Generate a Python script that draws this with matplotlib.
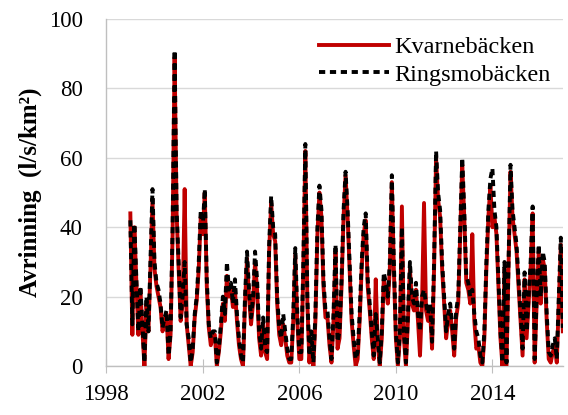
import numpy as np
import matplotlib
matplotlib.use("Agg")
from matplotlib import pyplot as plt

plt.rcParams['font.family'] = ['Liberation Serif', 'DejaVu Serif']

# monthly runoff (l/s/km2), Jan 1999 onwards
start_year = 1999
ringsmo = [42, 12, 41, 25, 10, 23, 12, 1, 20, 10, 30, 51,
           30, 24, 22, 18, 11, 14, 16, 3, 10, 40, 91, 45,
           30, 14, 20, 30, 12, 8, 1, 5, 15, 20, 30, 45,
           40, 51, 25, 12, 8, 10, 10, 1, 5, 12, 20, 15,
           30, 22, 24, 18, 25, 15, 8, 3, 1, 20, 33, 22,
           14, 20, 33, 25, 10, 5, 14, 5, 4, 35, 49, 40,
           38, 20, 11, 8, 15, 10, 5, 2, 2, 15, 34, 15,
           4, 4, 30, 64, 20, 3, 10, 1, 15, 40, 52, 45,
           25, 16, 16, 8, 2, 15, 35, 7, 10, 25, 45, 56,
           45, 30, 15, 8, 2, 4, 15, 30, 40, 44, 25, 18,
           10, 3, 15, 8, 1, 10, 27, 24, 20, 30, 55, 30,
           10, 1, 10, 40, 10, 1, 15, 30, 20, 18, 24, 15,
           10, 20, 22, 18, 15, 18, 7, 30, 62, 50, 45, 30,
           20, 10, 15, 18, 12, 5, 16, 20, 40, 60, 45, 26,
           24, 20, 22, 15, 10, 8, 3, 1, 10, 30, 45, 54,
           57, 45, 40, 25, 10, 1, 30, 1, 30, 58, 45, 40,
           35, 25, 15, 5, 27, 10, 20, 30, 46, 2, 20, 35,
           20, 33, 30, 15, 4, 3, 6, 8, 2, 20, 37, 11]
kvarne = [44, 9, 40, 24, 9, 22, 10, 0, 18, 10, 28, 48,
          28, 23, 20, 17, 10, 13, 15, 2, 9, 38, 89, 44,
          28, 13, 18, 51, 12, 6, 0, 4, 14, 19, 28, 43,
          38, 50, 23, 11, 6, 9, 9, 0, 4, 10, 18, 13,
          26, 20, 22, 17, 22, 13, 6, 2, 0, 18, 31, 20,
          12, 18, 30, 22, 8, 3, 12, 4, 2, 33, 47, 38,
          36, 18, 9, 6, 12, 8, 3, 1, 1, 13, 32, 13,
          2, 2, 28, 62, 18, 1, 8, 0, 13, 38, 50, 43,
          23, 14, 14, 6, 1, 13, 33, 5, 8, 23, 43, 55,
          43, 28, 13, 6, 0, 2, 13, 28, 38, 42, 23, 16,
          8, 2, 25, 6, 0, 8, 25, 22, 18, 28, 53, 28,
          8, 0, 8, 46, 8, 0, 13, 28, 18, 16, 22, 13,
          3, 18, 47, 16, 13, 16, 5, 28, 60, 48, 43, 28,
          18, 8, 13, 16, 10, 3, 14, 18, 38, 58, 43, 24,
          22, 18, 38, 13, 5, 6, 1, 0, 8, 28, 43, 52,
          40, 43, 38, 23, 8, 0, 28, 0, 28, 56, 43, 38,
          33, 23, 13, 3, 25, 8, 18, 28, 44, 1, 18, 33,
          18, 31, 28, 13, 2, 1, 4, 6, 1, 18, 35, 10]

t = start_year + np.arange(len(ringsmo)) / 12.0

fig, ax = plt.subplots(figsize=(5.68, 4.15), dpi=100)
fig.subplots_adjust(left=0.187, right=0.991, bottom=0.118, top=0.954)

ax.plot(t, kvarne, color='#c00000', lw=2.8, label='Kvarnebäcken', zorder=3)
ax.plot(t, ringsmo, color='black', lw=2.8, linestyle=(0, (1.6, 1.2)),
        label='Ringsmobäcken', zorder=4)

ax.set_xlim(1998, 2016.92)
ax.set_ylim(0, 100)
ax.set_xticks([1998, 2002, 2006, 2010, 2014])
ax.set_yticks(np.arange(0, 101, 20))
ax.grid(axis='y', color='#d9d9d9', lw=1.0)
ax.set_axisbelow(True)

for side in ['top', 'right']:
    ax.spines[side].set_visible(False)
for side in ['left', 'bottom']:
    ax.spines[side].set_color('#bfbfbf')
    ax.spines[side].set_linewidth(1.0)

ax.tick_params(axis='y', length=0, pad=17, labelsize=16.5)
ax.tick_params(axis='x', direction='inout', length=10, color='#bfbfbf',
               pad=8, labelsize=16.5)

ax.set_ylabel('Avrinning  (l/s/km²)', fontsize=18, fontweight='bold', labelpad=5)

ax.legend(loc='upper right', bbox_to_anchor=(1.0, 0.985), frameon=False,
          fontsize=17.5, handlelength=2.9, handletextpad=0.2,
          labelspacing=0.22, borderaxespad=0.1)

fig.savefig('out.png', dpi=100)
